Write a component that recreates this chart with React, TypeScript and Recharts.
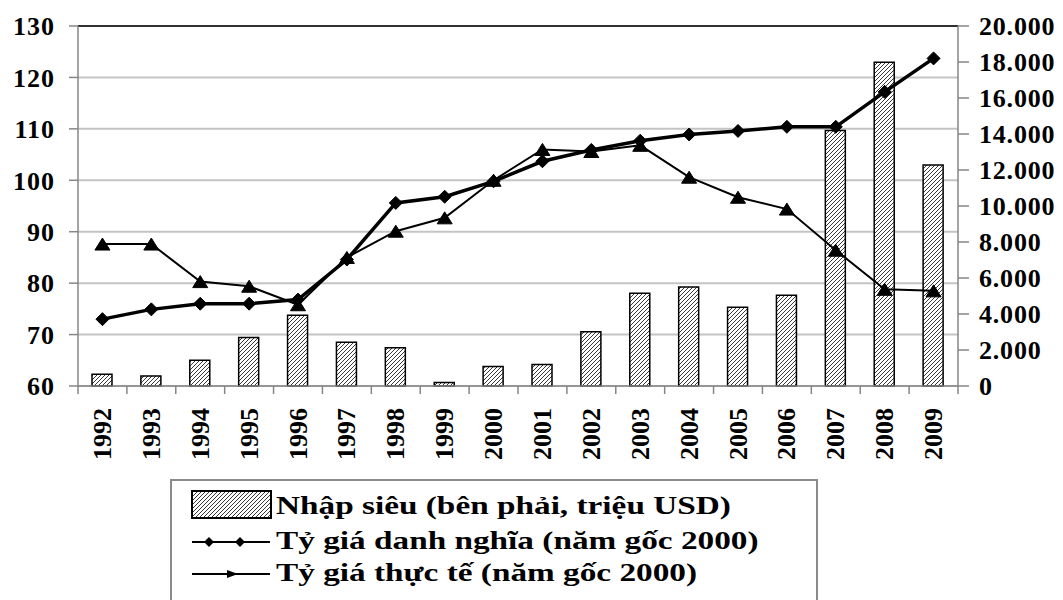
import React from "react";
import {
  ComposedChart,
  Bar,
  Line,
  XAxis,
  YAxis,
  CartesianGrid,
  Legend,
  ReferenceLine,
} from "recharts";

const years = ["1992","1993","1994","1995","1996","1997","1998","1999","2000","2001","2002","2003","2004","2005","2006","2007","2008","2009"];
const importSurplus = [650, 560, 1430, 2700, 3930, 2430, 2130, 200, 1090, 1200, 3020, 5150, 5500, 4370, 5040, 14200, 17980, 12280];
const nominalRate = [73.0, 74.9, 76.0, 76.0, 76.8, 84.6, 95.6, 96.8, 99.8, 103.7, 105.9, 107.7, 108.9, 109.6, 110.4, 110.4, 117.2, 123.7];
const realRate = [87.6, 87.6, 80.3, 79.4, 75.8, 85.0, 90.1, 92.7, 100.0, 106.0, 105.6, 106.8, 100.6, 96.7, 94.4, 86.4, 78.8, 78.5];
const leftTicks = [60, 70, 80, 90, 100, 110, 120, 130];
const rightTicks = [0, 2000, 4000, 6000, 8000, 10000, 12000, 14000, 16000, 18000, 20000];
const legendLabels = [
  "Nhập siêu (bên phải, triệu USD)",
  "Tỷ giá danh nghĩa (năm gốc 2000)",
  "Tỷ giá thực tế (năm gốc 2000)",
];

const data = years.map((y, i) => ({
  year: y,
  surplus: importSurplus[i],
  nominal: nominalRate[i],
  real: realRate[i],
}));

const FONT = "'Liberation Serif', 'Times New Roman', serif";
const AXIS_GRAY = "#868686";

const fmtRight = (v: number) => {
  if (v === 0) return "0";
  const s = String(v);
  return s.slice(0, s.length - 3) + "." + s.slice(s.length - 3);
};

const YearTick = (props: any) => {
  const { x, y, payload, index } = props;
  const off = payload && typeof payload.offset === "number" ? payload.offset : 0;
  return (
    <g>
      <line x1={x - off} x2={x - off} y1={y} y2={y + 8} stroke={AXIS_GRAY} strokeWidth={1.5} />
      {index === years.length - 1 ? (
        <line x1={x + off} x2={x + off} y1={y} y2={y + 8} stroke={AXIS_GRAY} strokeWidth={1.5} />
      ) : null}
      <text
        x={x}
        y={y + 22}
        transform={`rotate(-90, ${x}, ${y + 22})`}
        textAnchor="end"
        dominantBaseline="central"
        fontFamily={FONT}
        fontWeight="bold"
        fontSize={26}
        fill="#000"
      >
        {payload.value}
      </text>
    </g>
  );
};

const Diamond = (props: any) => {
  const { cx, cy } = props;
  if (cx == null || cy == null) return null;
  const r = 6.5;
  return (
    <polygon
      points={`${cx},${cy - r} ${cx + r},${cy} ${cx},${cy + r} ${cx - r},${cy}`}
      fill="#000"
      stroke="#000"
    />
  );
};

const Triangle = (props: any) => {
  const { cx, cy } = props;
  if (cx == null || cy == null) return null;
  return (
    <polygon
      points={`${cx},${cy - 6} ${cx + 7.5},${cy + 6} ${cx - 7.5},${cy + 6}`}
      fill="#000"
      stroke="#000"
    />
  );
};

const LegendBox = () => {
  const textX = 106;
  const baselines = [35, 70, 102];
  return (
    <svg width={648} height={140} style={{ display: "block", overflow: "visible" }}>
      <defs>
        <pattern id="hatchLegend" patternUnits="userSpaceOnUse" width="4" height="4">
          <rect width="4" height="4" fill="#fff" />
          <path d="M-1,1 l2,-2 M0,4 l4,-4 M3,5 l2,-2" stroke="#3a3a3a" strokeWidth="1" />
        </pattern>
      </defs>
      <rect x={1} y={1} width={646} height={150} fill="#fff" stroke="#8a8a8a" strokeWidth={2} />
      <rect x={22} y={12} width={79} height={27} fill="url(#hatchLegend)" stroke="#000" strokeWidth={2} />
      <line x1={22} x2={100} y1={63} y2={63} stroke="#000" strokeWidth={2} />
      <polygon points={`39,58 44,63 39,68 34,63`} fill="#000" />
      <polygon points={`70,58 75,63 70,68 65,63`} fill="#000" />
      <line x1={22} x2={100} y1={95} y2={95} stroke="#000" strokeWidth={2} />
      <polygon points={`57,91 68,95 57,99`} fill="#000" />
      {legendLabels.map((t, i) => (
        <text
          key={t}
          x={0}
          y={0}
          transform={`translate(${textX}, ${baselines[i]}) scale(1.28, 1)`}
          fontFamily={FONT}
          fontWeight="bold"
          fontSize={26}
          fill="#000"
        >
          {t}
        </text>
      ))}
    </svg>
  );
};

export default function App() {
  return (
    <div style={{ width: 1055, height: 592, fontFamily: FONT }}>
      <ComposedChart
        width={1055}
        height={592}
        data={data}
        margin={{ top: 18, right: 0, bottom: 134, left: 0 }}
      >
        <defs>
          <pattern id="hatch" patternUnits="userSpaceOnUse" width="4" height="4">
            <rect width="4" height="4" fill="#fff" />
            <path d="M-1,1 l2,-2 M0,4 l4,-4 M3,5 l2,-2" stroke="#3a3a3a" strokeWidth="1" />
          </pattern>
        </defs>
        <CartesianGrid yAxisId="left" vertical={false} stroke="#c4c4c4" strokeWidth={2} />
        <XAxis
          dataKey="year"
          height={80}
          axisLine={{ stroke: AXIS_GRAY, strokeWidth: 1.5 }}
          tickLine={false}
          tickSize={0}
          tickMargin={0}
          interval={0}
          tick={<YearTick />}
        />
        <YAxis
          yAxisId="left"
          width={70}
          domain={[60, 130]}
          ticks={leftTicks}
          interval={0}
          axisLine={{ stroke: AXIS_GRAY, strokeWidth: 1.5 }}
          tickLine={{ stroke: AXIS_GRAY, strokeWidth: 1.5 }}
          tickSize={9}
          tickMargin={14}
          tick={{ fontFamily: FONT, fontWeight: "bold", fontSize: 26, fill: "#000", letterSpacing: 1 }}
        />
        <YAxis
          yAxisId="right"
          orientation="right"
          width={105}
          domain={[0, 20000]}
          ticks={rightTicks}
          interval={0}
          tickFormatter={fmtRight}
          axisLine={{ stroke: AXIS_GRAY, strokeWidth: 1.5 }}
          tickLine={{ stroke: AXIS_GRAY, strokeWidth: 1.5 }}
          tickSize={11}
          tickMargin={10}
          tick={{ fontFamily: FONT, fontWeight: "bold", fontSize: 26, fill: "#000", textAnchor: "start", letterSpacing: 0.8 }}
        />
        <ReferenceLine yAxisId="left" y={130} stroke="#000" strokeWidth={1.5} />
        <Bar
          yAxisId="right"
          dataKey="surplus"
          name={legendLabels[0]}
          fill="url(#hatch)"
          stroke="#000"
          strokeWidth={1.5}
          barSize={20}
          isAnimationActive={false}
        />
        <Line
          yAxisId="left"
          dataKey="real"
          name={legendLabels[2]}
          stroke="#000"
          strokeWidth={2}
          dot={<Triangle />}
          activeDot={false}
          isAnimationActive={false}
        />
        <Line
          yAxisId="left"
          dataKey="nominal"
          name={legendLabels[1]}
          stroke="#000"
          strokeWidth={3.5}
          dot={<Diamond />}
          activeDot={false}
          isAnimationActive={false}
        />
        <Legend
          layout="vertical"
          align="center"
          verticalAlign="middle"
          content={() => <LegendBox />}
          wrapperStyle={{ left: 162, top: 471, width: 648, height: 140 }}
        />
      </ComposedChart>
    </div>
  );
}
